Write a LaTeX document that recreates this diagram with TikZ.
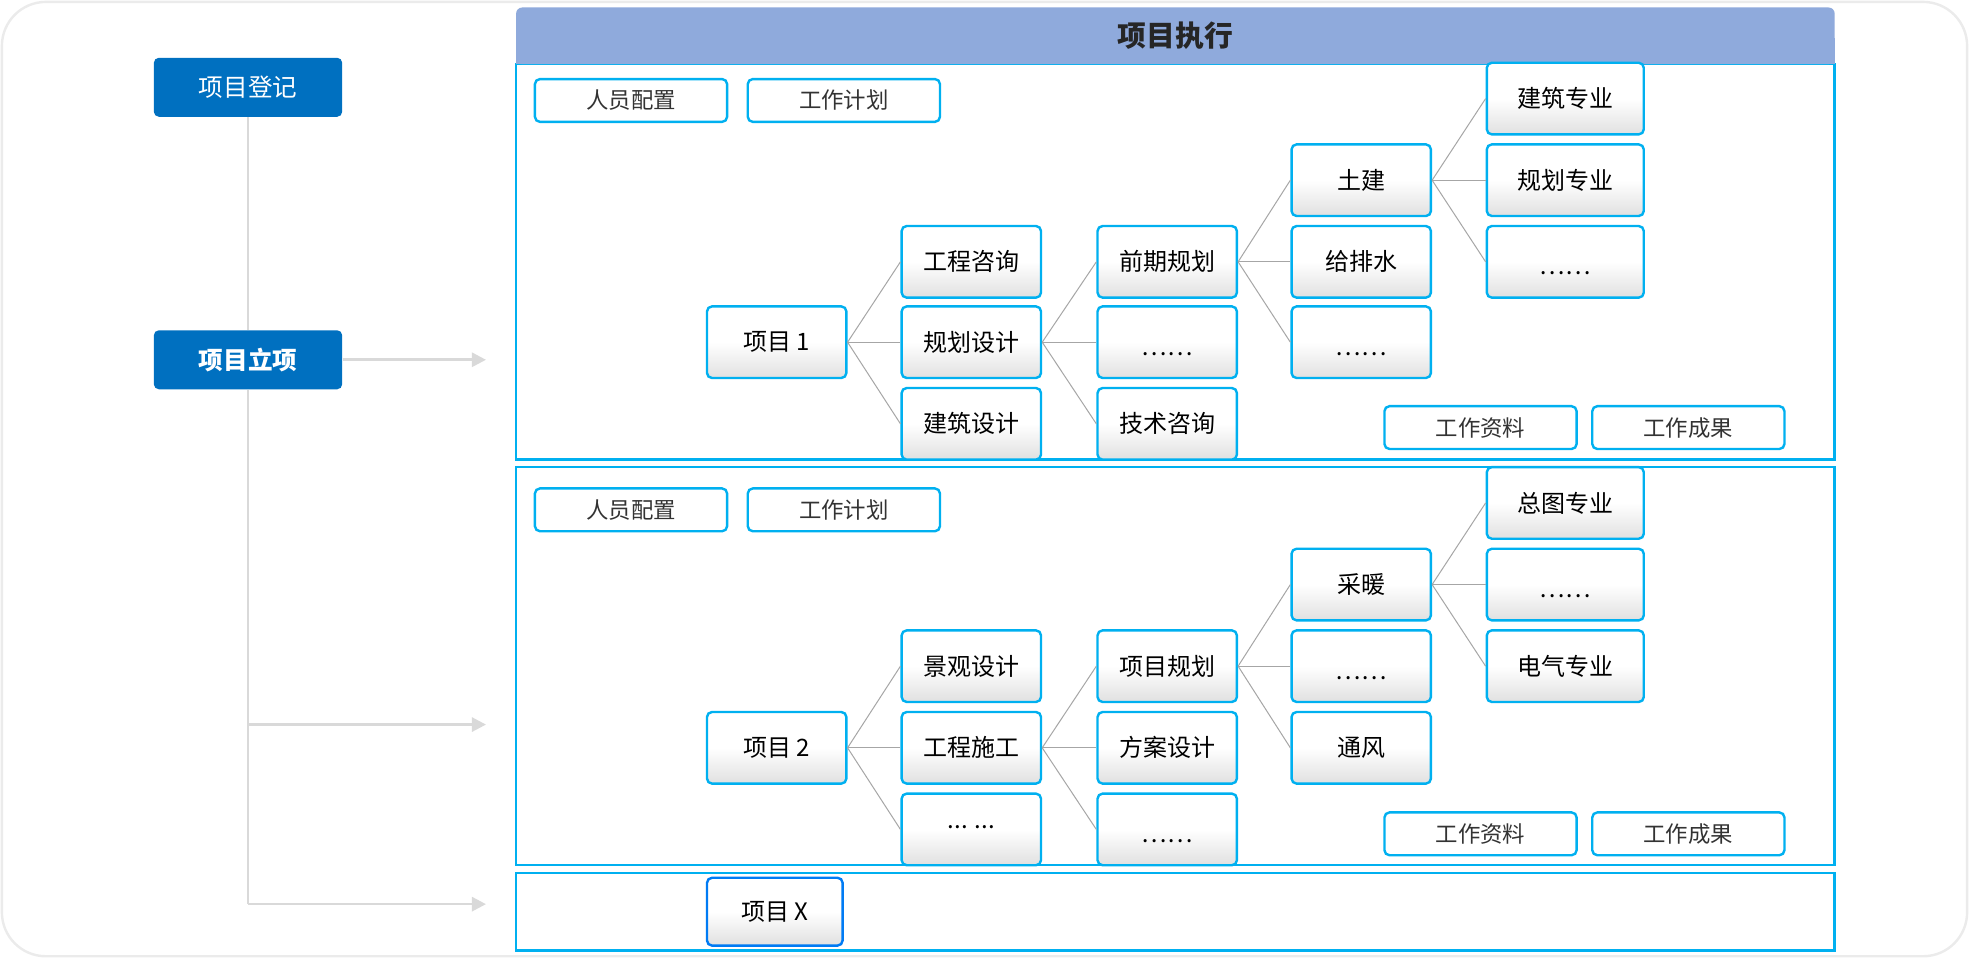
\documentclass[tikz,border=0pt]{standalone}
\usepackage{fontspec}
\setmainfont{Noto Sans CJK SC}
\usetikzlibrary{arrows.meta}
\definecolor{cy}{HTML}{00B0F0}
\definecolor{blu}{HTML}{0070C0}
\definecolor{hdrc}{HTML}{8FAADC}
\definecolor{frm}{HTML}{EBEBEB}
\newcommand{\dotsix}{\vphantom{项}\raisebox{-0.18em}[0pt][0pt]{……}}
\tikzset{
 nd/.style={draw=cy, line width=1.2pt, rounded corners=2.5pt, top color=white, bottom color=black!12, middle color=white, minimum width=69.7pt, minimum height=35.8pt, inner sep=0pt, font=\fontsize{12}{14}\selectfont, text=black},
 ndw/.style={nd, minimum width=78.5pt},
 sm/.style={draw=cy, line width=1.2pt, rounded corners=2.5pt, fill=white, minimum width=96.1pt, minimum height=21.4pt, inner sep=0pt, font=\fontsize{11.2}{13}\selectfont, text=black!80},
 bl/.style={fill=blu, rounded corners=2.5pt, minimum width=94.2pt, minimum height=29.5pt, inner sep=0pt, text=white, font=\fontsize{12.3}{14}\selectfont},
 sec/.style={draw=cy, line width=1.2pt},
 cn/.style={draw=black!35, line width=0.5pt},
 gl/.style={draw=black!15, line width=1.3pt},
 ga/.style={gl, -{Triangle[length=7pt,width=7pt]}},
}
\begin{document}
\begin{tikzpicture}[x=0.628pt,y=-0.628pt]
\useasboundingbox (0,0) rectangle (1568,763);
\draw[draw=frm, line width=1.2pt, fill=white, rounded corners=22pt] (1.5,1.5) rectangle (1566.5,761.5);
% left column
\node[bl] (reg) at (197.5,69.5) {项目登记};
\node[bl, font=\fontsize{12.3}{14}\selectfont\bfseries] (lix) at (197.5,286.5) {项目立项};
\coordinate (vend) at (197.5,720);
\coordinate (v2) at (197.5,577);
\coordinate (t1) at (387,288);
\coordinate (t2) at (387,577);
\coordinate (t3) at (387,720);
\draw[gl] (reg.south) -- (lix.north);
\draw[gl] (lix.south) -- (vend);
\draw[ga] (lix.east) -- (lix.east -| t1);
\draw[ga] (v2) -- (t2);
\draw[ga] (vend) -- (t3);
% sections
\draw[sec] (411,51) rectangle (1461,366);
\draw[sec] (411,372) rectangle (1461,689);
\draw[sec] (411,695) rectangle (1461,757);
\fill[hdrc] (411,30) rectangle (1461,51);
\node[fill=hdrc, rounded corners=3pt, minimum width=659.4pt, minimum height=28.3pt, inner sep=0pt, font=\fontsize{14.4}{16}\selectfont\bfseries, text=black!85] (hdr) at (936,28.5) {项目执行};
% section 1
\node[sm] (s1a) at (502.5,80) {人员配置};
\node[sm] (s1b) at (672,80) {工作计划};
\node[sm] (s1c) at (1179,340.5) {工作资料};
\node[sm] (s1d) at (1344.5,340.5) {工作成果};
\node[nd] (p1) at (618.5,272.5) {项目 1};
\node[nd] (a1) at (773.5,208.5) {工程咨询};
\node[nd] (a2) at (773.5,272.5) {规划设计};
\node[nd] (a3) at (773.5,337.5) {建筑设计};
\node[nd] (b1) at (929.5,208.5) {前期规划};
\node[nd] (b2) at (929.5,272.5) {\dotsix};
\node[nd] (b3) at (929.5,337.5) {技术咨询};
\node[nd] (c1) at (1084,143.5) {土建};
\node[nd] (c2) at (1084,208.5) {给排水};
\node[nd] (c3) at (1084,272.5) {\dotsix};
\node[ndw] (d1) at (1246.5,78.5) {建筑专业};
\node[ndw] (d2) at (1246.5,143.5) {规划专业};
\node[ndw] (d3) at (1246.5,208.5) {\dotsix};
\foreach \c in {a1,a2,a3} \draw[cn] (p1.east) -- (\c.west);
\foreach \c in {b1,b2,b3} \draw[cn] (a2.east) -- (\c.west);
\foreach \c in {c1,c2,c3} \draw[cn] (b1.east) -- (\c.west);
\foreach \c in {d1,d2,d3} \draw[cn] (c1.east) -- (\c.west);
% section 2
\node[sm] (s2a) at (502.5,406) {人员配置};
\node[sm] (s2b) at (672,406) {工作计划};
\node[sm] (s2c) at (1179,664) {工作资料};
\node[sm] (s2d) at (1344.5,664) {工作成果};
\node[nd] (p2) at (618.5,595.5) {项目 2};
\node[nd] (e1) at (773.5,530.5) {景观设计};
\node[nd] (e2) at (773.5,595.5) {工程施工};
\node[nd] (e3) at (773.5,660.5) {\raisebox{0.35ex}{... ...}};
\node[nd] (f1) at (929.5,530.5) {项目规划};
\node[nd] (f2) at (929.5,595.5) {方案设计};
\node[nd] (f3) at (929.5,660.5) {\dotsix};
\node[nd] (g1) at (1084,465.5) {采暖};
\node[nd] (g2) at (1084,530.5) {\dotsix};
\node[nd] (g3) at (1084,595.5) {通风};
\node[ndw] (h1) at (1246.5,400.5) {总图专业};
\node[ndw] (h2) at (1246.5,465.5) {\dotsix};
\node[ndw] (h3) at (1246.5,530.5) {电气专业};
\foreach \c in {e1,e2,e3} \draw[cn] (p2.east) -- (\c.west);
\foreach \c in {f1,f2,f3} \draw[cn] (e2.east) -- (\c.west);
\foreach \c in {g1,g2,g3} \draw[cn] (f1.east) -- (\c.west);
\foreach \c in {h1,h2,h3} \draw[cn] (g1.east) -- (\c.west);
% section 3
\node[nd, draw=cy!70!blue, minimum width=67.8pt, minimum height=33.9pt] (px) at (617,726) {项目 X};
\end{tikzpicture}
\end{document}
